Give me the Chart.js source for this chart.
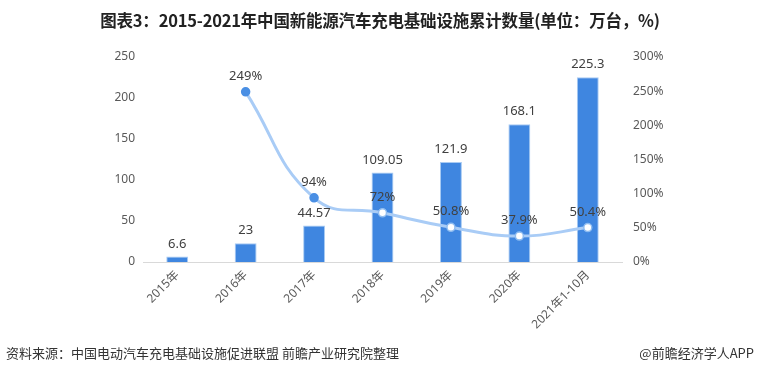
<!DOCTYPE html>
<html>
<head>
<meta charset="utf-8">
<script src="https://cdn.jsdelivr.net/npm/chart.js@4"></script>
<style>
  html, body { margin: 0; padding: 0; background: #fff; }
  #wrap { position: relative; width: 760px; height: 371px; overflow: hidden; }
  #title { position: absolute; left: 0; top: 8px; width: 760px; text-align: center;
    font: bold 16.5px "Liberation Sans Narrow", "Noto Sans CJK SC", sans-serif; color: #222; letter-spacing: -0.2px; }
  #src { position: absolute; left: 6px; top: 343px; font: 13px "Noto Sans CJK SC", sans-serif; color: #333; }
  #app { position: absolute; right: 6px; top: 343px; font: 13px "Noto Sans CJK SC", sans-serif; color: #333; }
  canvas { position: absolute; left: 0; top: 0; }
</style>
</head>
<body>
<div id="wrap">
  <canvas id="c" width="760" height="371"></canvas>
  <div id="title">图表3：2015-2021年中国新能源汽车充电基础设施累计数量(单位：万台，%)</div>
  <div id="src">资料来源：中国电动汽车充电基础设施促进联盟 前瞻产业研究院整理</div>
  <div id="app">@前瞻经济学人APP</div>
</div>
<script>
  const categories = ['2015年', '2016年', '2017年', '2018年', '2019年', '2020年', '2021年1-10月'];
  const totals = [6.6, 23, 44.57, 109.05, 121.9, 168.1, 225.3];
  const growth = [null, 249, 94, 72, 50.8, 37.9, 50.4];
  const growthLabels = ['', '249%', '94%', '72%', '50.8%', '37.9%', '50.4%'];

  const labelFont = '13px "Noto Sans", "Noto Sans CJK SC", sans-serif';

  // draws value labels above bars and points
  const valueLabels = {
    id: 'valueLabels',
    afterDatasetsDraw(chart) {
      const ctx = chart.ctx;
      ctx.save();
      ctx.font = labelFont;
      ctx.fillStyle = '#404040';
      ctx.textAlign = 'center';
      ctx.textBaseline = 'bottom';
      chart.getDatasetMeta(0).data.forEach((el, i) => {
        ctx.fillText(String(totals[i]), el.x, el.y - 6);
      });
      chart.getDatasetMeta(1).data.forEach((el, i) => {
        if (growth[i] == null) return;
        ctx.fillText(growthLabels[i], el.x, el.y - 9);
      });
      ctx.restore();
    }
  };

  new Chart(document.getElementById('c'), {
    data: {
      labels: categories,
      datasets: [{
        type: 'bar',
        data: totals,
        backgroundColor: '#3f86e0',
        borderColor: '#a9cbf3',
        borderWidth: 1,
        barPercentage: 0.64,
        categoryPercentage: 0.5,
        yAxisID: 'y',
        order: 2,
      }, {
        type: 'line',
        data: growth,
        yAxisID: 'y1',
        borderColor: '#a9ccf6',
        borderWidth: 3,
        tension: 0.45,
        pointRadius: 4,
        pointBorderWidth: 1.5,
        pointBackgroundColor: ['#4a8fe4', '#4a8fe4', '#4a8fe4', '#fff', '#fff', '#fff', '#fff'],
        pointBorderColor: ['#4a8fe4', '#4a8fe4', '#4a8fe4', '#8fbcf0', '#8fbcf0', '#8fbcf0', '#8fbcf0'],
        order: 1,
      }],
    },
    options: {
      responsive: false,
      animation: false,
      layout: { padding: { top: 57 } },
      plugins: { legend: { display: false }, tooltip: { enabled: false } },
      scales: {
        x: {
          grid: { display: false, drawTicks: false },
          border: { color: '#d9d9d9', width: 1 },
          ticks: { color: '#595959', font: { size: 12, family: '"Noto Sans", "Noto Sans CJK SC", sans-serif' }, minRotation: 45, maxRotation: 45, padding: 6 },
          afterFit: (s) => { s.height = 109; },
        },
        y: {
          position: 'left',
          min: 0, max: 250,
          ticks: { stepSize: 50, color: '#595959', padding: 8, font: { size: 12, family: '"Noto Sans", sans-serif' } },
          grid: { display: false, drawTicks: false },
          border: { display: false },
          afterFit: (s) => { s.width = 143; },
        },
        y1: {
          position: 'right',
          min: 0, max: 300,
          ticks: { stepSize: 50, color: '#595959', padding: 11, font: { size: 12, family: '"Noto Sans", sans-serif' }, callback: (v) => v + '%' },
          grid: { display: false, drawTicks: false },
          border: { display: false },
          afterFit: (s) => { s.width = 138; },
        },
      },
    },
    plugins: [valueLabels],
  });
</script>
</body>
</html>
